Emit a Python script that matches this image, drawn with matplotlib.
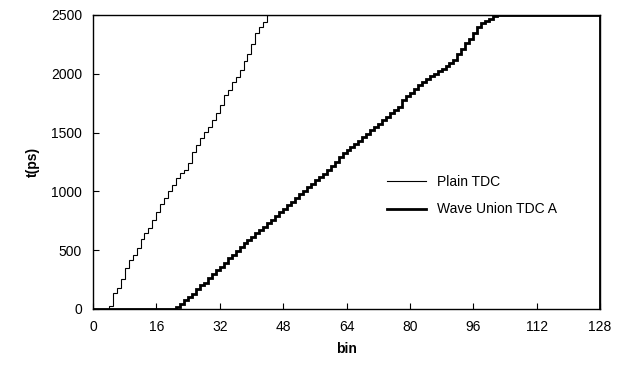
import numpy as np
import matplotlib
matplotlib.use("Agg")
import matplotlib.pyplot as plt

plt.rcParams['font.family'] = ['Liberation Sans', 'DejaVu Sans']

# Plain TDC: t(ps) per bin, bins 4..43 (0 before, 2500 after)
plain_start = 4
plain_vals = [25, 133, 176, 252, 346, 417, 459, 516, 593, 644,
              686, 757, 828, 893, 941, 1006, 1054, 1111, 1156, 1182,
              1239, 1338, 1394, 1451, 1508, 1551, 1607, 1664, 1735, 1820,
              1862, 1933, 1976, 2032, 2110, 2170, 2250, 2347, 2401, 2443]

# Wave Union TDC A: t(ps) per bin, bins 21..101 (0 before, 2500 after)
wave_start = 21
wave_vals = [20, 45, 80, 105, 130, 170, 200, 225, 265, 300,
             330, 360, 395, 430, 455, 490, 530, 560, 590, 615,
             645, 672, 700, 735, 760, 790, 825, 850, 885, 910,
             940, 975, 1005, 1035, 1065, 1095, 1120, 1150, 1180, 1220,
             1250, 1290, 1324, 1350, 1380, 1405, 1430, 1460, 1490, 1522,
             1545, 1575, 1605, 1635, 1664, 1690, 1720, 1777, 1810, 1835,
             1870, 1905, 1933, 1955, 1980, 2000, 2020, 2045, 2065, 2090,
             2120, 2165, 2210, 2260, 2300, 2350, 2400, 2430, 2450, 2470,
             2490]

n_bins = 128
t_max = 2500
x_ticks = [0, 16, 32, 48, 64, 80, 96, 112, 128]
y_ticks = [0, 500, 1000, 1500, 2000, 2500]


def full_series(start, vals):
    out = [0] * start + list(vals)
    out += [t_max] * (n_bins - len(out))
    return np.array(out, dtype=float)


plain = full_series(plain_start, plain_vals)
wave = full_series(wave_start, wave_vals)
edges = np.arange(n_bins + 1)

fig = plt.figure(figsize=(6.31, 3.78), dpi=100)
ax = fig.add_axes([93 / 631, 1 - 309 / 378, (600 - 93) / 631, (309 - 15) / 378])

ax.stairs(plain, edges, color='black', linewidth=0.8, label='Plain TDC')
ax.stairs(wave, edges, color='black', linewidth=2.0, label='Wave Union TDC A')

ax.set_xlim(0, 128)
ax.set_ylim(0, 2500)
ax.set_xticks(x_ticks)
ax.set_yticks(y_ticks)
ax.tick_params(direction='in', length=4, width=0.8, labelsize=10, pad=8)
for s in ax.spines.values():
    s.set_linewidth(1.0)

ax.set_xlabel('bin', fontsize=10, fontweight='bold', labelpad=6)
ax.set_ylabel('t(ps)', fontsize=10, fontweight='bold', labelpad=8)

ax.legend(loc='upper left', bbox_to_anchor=(0.555, 0.50), frameon=False,
          fontsize=10, handlelength=2.8, handletextpad=0.8, labelspacing=1.0)

fig.savefig('out.png', dpi=100)
